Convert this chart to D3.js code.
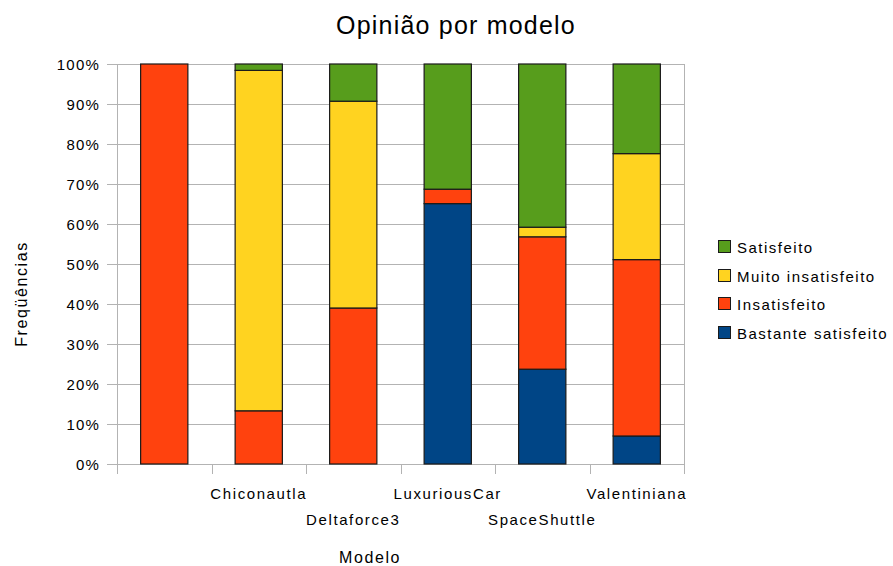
<!DOCTYPE html>
<html>
<head>
<meta charset="utf-8">
<script src="https://cdnjs.cloudflare.com/ajax/libs/d3/7.8.5/d3.min.js"></script>
<style>
  html, body { margin: 0; padding: 0; background: #fff; }
  text { font-family: "Liberation Sans", Arial, sans-serif; fill: #000; }
</style>
</head>
<body>
<svg id="chart" width="893" height="566"></svg>
<script>
// ---- data ----
const categories = ["", "Chiconautla", "Deltaforce3", "LuxuriousCar", "SpaceShuttle", "Valentiniana"];
const seriesNames = ["Bastante satisfeito", "Insatisfeito", "Muito insatisfeito", "Satisfeito"];
const bastanteSatisfeito = [0, 0, 0, 65.1, 23.7, 7.0];
const insatisfeito       = [100, 13.3, 39.0, 3.6, 33.1, 44.1];
const muitoInsatisfeito  = [0, 85.1, 51.7, 0, 2.4, 26.5];
const satisfeito         = [0, 1.6, 9.3, 31.3, 40.8, 22.4];
const yTicks = [0, 10, 20, 30, 40, 50, 60, 70, 80, 90, 100];
const colors = ["#004586", "#ff420e", "#ffd320", "#579d1c"];
const title = "Opinião por modelo";
const xTitle = "Modelo";
const yTitle = "Freqüências";

// ---- layout ----
const svg = d3.select("#chart");
const plot = { left: 117, right: 684, top: 64, bottom: 464 };

const rows = categories.map((c, i) => ({
  cat: c,
  "Bastante satisfeito": bastanteSatisfeito[i],
  "Insatisfeito": insatisfeito[i],
  "Muito insatisfeito": muitoInsatisfeito[i],
  "Satisfeito": satisfeito[i]
}));
const stacked = d3.stack().keys(seriesNames)(rows);

const x = d3.scaleBand().domain(d3.range(categories.length))
  .range([plot.left, plot.right]).paddingInner(0).paddingOuter(0);
const y = d3.scaleLinear().domain([0, 100]).range([plot.bottom, plot.top]);
const color = d3.scaleOrdinal().domain(seriesNames).range(colors);

const gridColor = "#b3b3b3";

// gridlines
svg.append("g").selectAll("line").data(yTicks).join("line")
  .attr("x1", plot.left - 10).attr("x2", plot.right)
  .attr("y1", d => y(d) + 0.5).attr("y2", d => y(d) + 0.5)
  .attr("stroke", gridColor).attr("stroke-width", 1);

// left axis line and right border
svg.append("line").attr("x1", plot.left + 0.5).attr("x2", plot.left + 0.5)
  .attr("y1", plot.top).attr("y2", plot.bottom + 10).attr("stroke", gridColor);
svg.append("line").attr("x1", plot.right + 0.5).attr("x2", plot.right + 0.5)
  .attr("y1", plot.top).attr("y2", plot.bottom + 10).attr("stroke", gridColor);

// x ticks at category boundaries
const bounds = d3.range(categories.length + 1).map(i => plot.left + i * x.bandwidth());
svg.append("g").selectAll("line").data(bounds).join("line")
  .attr("x1", d => Math.round(d) + 0.5).attr("x2", d => Math.round(d) + 0.5)
  .attr("y1", plot.bottom).attr("y2", plot.bottom + 10)
  .attr("stroke", gridColor);

// y tick labels
svg.append("g").selectAll("text").data(yTicks).join("text")
  .attr("x", 100).attr("y", d => y(d) + 5.5)
  .attr("text-anchor", "end")
  .style("font-size", "15px").style("letter-spacing", "1.2px")
  .text(d => d + "%");

// bars
const barW = x.bandwidth() / 2;
svg.append("g").selectAll("g").data(stacked).join("g")
  .attr("fill", d => color(d.key))
  .selectAll("rect").data(d => d.filter(s => s[1] - s[0] > 0)).join("rect")
  .attr("x", (d, i, n) => x(categories.indexOf(d.data.cat)) + (x.bandwidth() - barW) / 2)
  .attr("y", d => y(d[1]))
  .attr("width", barW)
  .attr("height", d => y(d[0]) - y(d[1]))
  .attr("stroke", "#1a1a1a").attr("stroke-width", 1.2);

// x labels (staggered)
svg.append("g").selectAll("text").data(categories).join("text")
  .attr("x", (d, i) => x(i) + x.bandwidth() / 2)
  .attr("y", (d, i) => i % 2 === 1 ? 499 : 525)
  .attr("text-anchor", "middle")
  .style("font-size", "15px").style("letter-spacing", "1.6px")
  .text(d => d);

// title
svg.append("text").attr("x", 456).attr("y", 34).attr("text-anchor", "middle")
  .style("font-size", "25px").style("letter-spacing", "1.2px").text(title);

// axis titles
svg.append("text").attr("x", 370).attr("y", 563).attr("text-anchor", "middle")
  .style("font-size", "16px").style("letter-spacing", "1.6px").text(xTitle);
svg.append("text").attr("transform", "translate(27,294) rotate(-90)")
  .attr("text-anchor", "middle")
  .style("font-size", "16px").style("letter-spacing", "1.6px").text(yTitle);

// legend
const legendNames = seriesNames.slice().reverse();
const legendY = [247, 276, 304, 333];
const lg = svg.append("g").selectAll("g").data(legendNames).join("g")
  .attr("transform", (d, i) => `translate(718,${legendY[i]})`);
lg.append("rect").attr("x", 0.5).attr("y", -6.5).attr("width", 12).attr("height", 12)
  .attr("fill", d => color(d)).attr("stroke", "#1a1a1a").attr("stroke-width", 1);
lg.append("text").attr("x", 19).attr("y", 5.5)
  .style("font-size", "15px").style("letter-spacing", "1.5px").text(d => d);
</script>
</body>
</html>
